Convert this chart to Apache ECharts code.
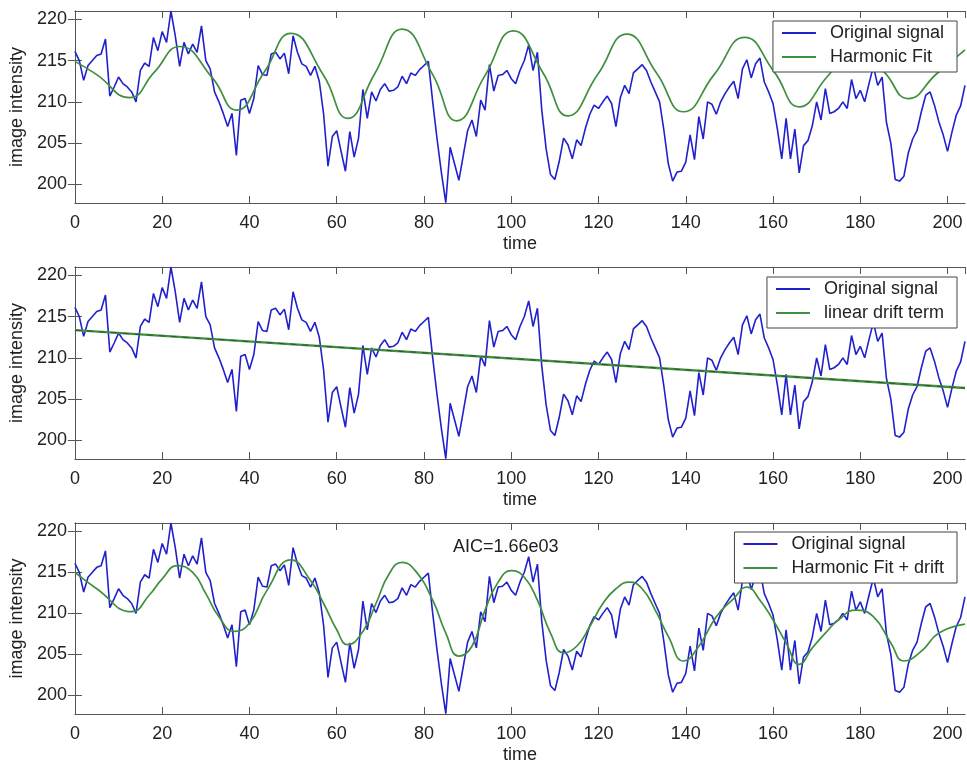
<!DOCTYPE html>
<html>
<head>
<meta charset="utf-8">
<title>image intensity vs time</title>
<script src="https://cdn.jsdelivr.net/npm/echarts@6/dist/echarts.min.js"></script>
<style>
  html, body { margin: 0; padding: 0; background: #ffffff; }
  #chart { width: 967px; height: 765px; }
</style>
</head>
<body>
<div id="chart"></div>
<script>
// Measured image intensity, one sample per time step (t = 0 .. 204)
const signal = [
  216.1, 215.0, 212.6, 214.4, 215.0, 215.6, 215.8, 217.6, 210.7, 211.8,
  213.0, 212.2, 211.8, 211.2, 210.0, 213.8, 214.7, 214.3, 217.8, 216.2,
  218.5, 217.2, 221.0, 218.0, 214.3, 217.2, 215.8, 217.0, 216.0, 219.2,
  215.0, 214.0, 211.2, 210.0, 208.6, 207.0, 208.6, 203.5, 210.2, 210.4,
  208.6, 210.4, 214.4, 213.3, 213.2, 215.8, 216.0, 215.2, 215.9, 213.4,
  218.0, 216.0, 214.6, 214.3, 213.2, 214.3, 212.5, 208.5, 202.2, 205.8,
  206.5, 204.0, 201.6, 206.4, 203.3, 205.6, 211.5, 208.0, 211.2, 210.1,
  211.5, 212.2, 211.3, 211.4, 211.8, 213.1, 212.2, 213.5, 213.2, 213.9,
  214.4, 214.9, 210.0, 205.5, 201.4, 197.8, 204.5, 202.5, 200.5, 203.5,
  206.5, 207.8, 205.8, 210.2, 209.0, 214.5, 211.3, 213.2, 213.3, 213.8,
  212.8, 212.2, 213.8, 215.0, 216.9, 213.8, 216.0, 209.0, 204.3, 201.2,
  200.6, 202.8, 205.6, 204.8, 203.1, 205.4, 204.7, 206.8, 208.5, 209.6,
  209.2, 210.0, 210.7, 209.8, 207.0, 210.5, 212.0, 211.0, 213.5, 214.0,
  214.5, 213.8, 212.4, 211.2, 210.0, 206.5, 202.5, 200.4, 201.5, 201.6,
  202.7, 206.0, 203.0, 208.2, 205.5, 210.0, 209.7, 208.5, 210.0, 211.0,
  211.8, 212.5, 210.4, 214.0, 215.1, 212.9, 214.6, 215.3, 212.4, 211.2,
  209.8, 206.7, 203.1, 208.0, 203.1, 206.7, 201.4, 204.7, 205.3, 207.1,
  210.0, 207.8, 211.6, 208.6, 208.8, 209.2, 210.0, 209.2, 212.7, 210.4,
  211.4, 210.0, 212.2, 214.3, 212.0, 213.0, 207.5, 205.0, 200.6, 200.4,
  201.0, 203.8, 205.5, 206.5, 208.8, 210.8, 211.2, 209.6, 207.6, 206.0,
  204.0, 206.3, 208.4, 209.5, 212.0
];

// Harmonic fit, sampled at its turning points and mid crossings
const harmonicTime = [
  0, 5, 12.5, 18.2, 24, 31.5, 37, 43.4, 49.5, 57, 62.5, 68.7, 75, 82, 87.5,
  94, 100.5, 107.3, 113, 119.8, 126.5, 133.3, 139.5, 146.5, 153.5, 160.3,
  166, 172.5, 179, 185.5, 191, 197.5, 204
];
const harmonicFit = [
  214.9, 213.3, 210.5, 213.6, 216.7, 212.9, 209.0, 213.6, 218.3, 213.2, 208.0,
  213.4, 218.8, 213.3, 207.7, 213.2, 218.6, 213.5, 208.3, 213.3, 218.2, 213.5,
  208.8, 213.3, 217.8, 213.6, 209.4, 213.1, 216.8, 213.6, 210.4, 213.4, 216.3
];

// Linear drift term (end points of the straight line)
const driftTime = [0, 204];
const driftFit = [213.35, 206.35];

// Harmonic fit with drift
const fitDriftTime = [
  0, 5, 13, 17, 20, 23.5, 27, 30, 33, 36.5, 40, 44, 49.5, 54, 57, 60, 62.5,
  66, 69, 72, 75, 78, 82, 85, 88, 91, 94, 97, 100, 103, 106, 109, 112, 115,
  118, 121, 124, 127, 130, 133, 136, 139.5, 143, 147, 151, 154, 157, 160,
  163, 166, 169, 172, 175, 179, 183, 187, 190, 194, 198, 204
];
const fitDrift = [
  215.0, 213.0, 210.2, 212.2, 214.2, 215.8, 215.0, 212.4, 209.6, 207.8,
  208.8, 212.8, 216.5, 214.0, 211.2, 208.0, 206.2, 207.8, 211.2, 214.8,
  216.2, 215.2, 211.6, 207.6, 204.8, 206.0, 210.4, 213.8, 215.2, 214.4,
  211.6, 207.6, 205.2, 206.0, 208.4, 211.2, 213.0, 213.8, 213.0, 210.4,
  207.2, 204.2, 206.0, 209.6, 211.8, 213.2, 211.6, 209.2, 206.4, 203.8,
  205.8, 207.6, 209.2, 210.4, 209.6, 206.4, 204.2, 205.4, 207.6, 208.7
];

const yTicks = [200, 205, 210, 215, 220];
const annotation = 'AIC=1.66e03';

const FONT = "'Liberation Sans', Arial, Helvetica, sans-serif";
const TEXT = '#222222';
const AXIS = '#555555';
const BLUE = '#2020cc';
const GREEN = '#3f8f3f';

const pairs = (xs, ys) => ys.map((v, i) => [xs[i], v]);
const time = signal.map((_, i) => i);

const grids = [
  { left: 74, top: 11, width: 891, height: 192 },
  { left: 74, top: 267, width: 891, height: 192 },
  { left: 74, top: 523, width: 891, height: 191 }
];

const tick = { inside: true, length: 7, lineStyle: { color: AXIS, width: 1 } };
const line = { show: true, lineStyle: { color: AXIS, width: 1 } };

const xAxes = [];
const yAxes = [];
grids.forEach((g, gi) => {
  xAxes.push({
    gridIndex: gi, type: 'value', position: 'bottom', min: 0, max: 204, interval: 20,
    axisLine: line, axisTick: tick, splitLine: { show: false },
    axisLabel: { fontSize: 18, color: TEXT, fontFamily: FONT, margin: 11, showMaxLabel: false },
    name: 'time', nameLocation: 'middle', nameGap: 32,
    nameTextStyle: { fontSize: 18, color: TEXT, fontFamily: FONT }
  });
  xAxes.push({
    gridIndex: gi, type: 'value', position: 'top', min: 0, max: 204, interval: 20,
    axisLine: line, axisTick: tick, splitLine: { show: false },
    axisLabel: { show: false }
  });
  yAxes.push({
    gridIndex: gi, type: 'value', position: 'left', min: 197.75, max: 221,
    axisLine: line,
    axisTick: Object.assign({ customValues: yTicks }, tick),
    splitLine: { show: false },
    axisLabel: {
      customValues: yTicks,
      fontSize: 18, color: TEXT, fontFamily: FONT, margin: 8
    },
    name: 'image intensity', nameLocation: 'middle', nameGap: 42, nameRotate: 90,
    nameTextStyle: { fontSize: 18, color: TEXT, fontFamily: FONT }
  });
  yAxes.push({
    gridIndex: gi, type: 'value', position: 'right', min: 197.75, max: 221,
    axisLine: line,
    axisTick: Object.assign({ customValues: yTicks }, tick),
    splitLine: { show: false },
    axisLabel: { show: false }
  });
});

function lineSeries(name, gi, data, color, width, extra) {
  return Object.assign({
    name: name, type: 'line', xAxisIndex: gi * 2, yAxisIndex: gi * 2,
    data: data, symbol: 'none', showSymbol: false,
    lineStyle: { color: color, width: width }, itemStyle: { color: color },
    emphasis: { disabled: true }, silent: true
  }, extra || {});
}

const signalData = pairs(time, signal);

const series = [
  lineSeries('Original signal', 0, signalData, BLUE, 1.6),
  lineSeries('Harmonic Fit', 0, pairs(harmonicTime, harmonicFit), GREEN, 1.7, { smooth: 0.5 }),
  lineSeries('Original signal', 1, signalData, BLUE, 1.6),
  lineSeries('linear drift term', 1, pairs(driftTime, driftFit), GREEN, 2.4),
  lineSeries('drift centre', 1, pairs(driftTime, driftFit), '#334033', 0.8,
    { lineStyle: { color: '#334033', width: 0.8, type: [6, 6] } }),
  lineSeries('Original signal', 2, signalData, BLUE, 1.6),
  lineSeries('Harmonic Fit + drift', 2, pairs(fitDriftTime, fitDrift), GREEN, 1.7, { smooth: 0.5 })
];

function legendBox(top, names) {
  return {
    orient: 'vertical', right: 10, top: top, data: names,
    selectedMode: false, icon: 'rect',
    backgroundColor: '#ffffff', borderColor: '#444444', borderWidth: 1,
    padding: [2, 13, 5, 9], itemGap: 4, itemWidth: 34, itemHeight: 2,
    textStyle: { fontSize: 18, color: TEXT, fontFamily: FONT, lineHeight: 20, padding: [0, 0, 0, 9] }
  };
}

const option = {
  backgroundColor: '#ffffff',
  animation: false,
  grid: grids,
  xAxis: xAxes,
  yAxis: yAxes,
  legend: [
    legendBox(21, ['Original signal', 'Harmonic Fit']),
    legendBox(277, ['Original signal', 'linear drift term']),
    legendBox(532, ['Original signal', 'Harmonic Fit + drift'])
  ],
  graphic: [{
    type: 'text', left: 453, top: 538,
    style: { text: annotation, fontSize: 18, fontFamily: FONT, fill: TEXT }
  }],
  series: series
};

const chart = echarts.init(document.getElementById('chart'), null, { renderer: 'canvas' });
chart.setOption(option);
</script>
</body>
</html>
